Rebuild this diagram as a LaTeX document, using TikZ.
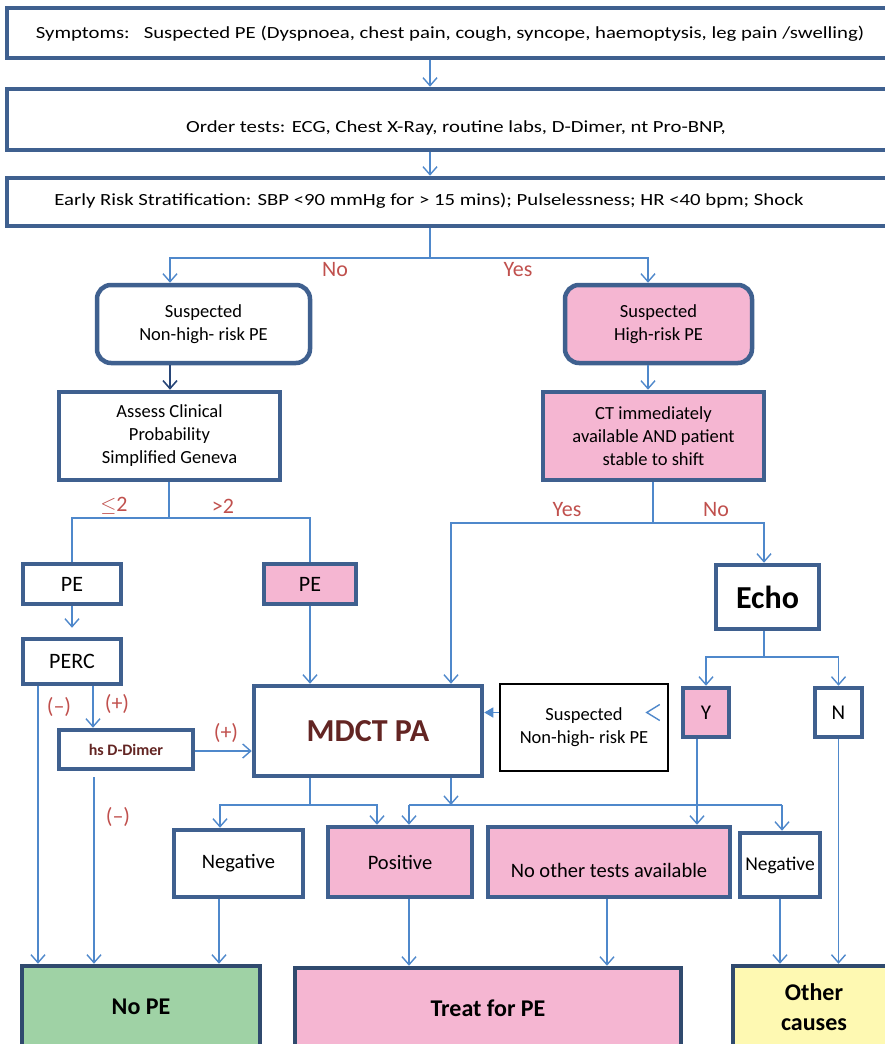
\documentclass[tikz,border=0pt]{standalone}
\usepackage{fontspec}
\setmainfont{Carlito}
\usetikzlibrary{arrows.meta,calc}
\definecolor{bordc}{RGB}{63,96,143}
\definecolor{bordd}{RGB}{48,74,110}
\definecolor{arrc}{RGB}{79,136,203}
\definecolor{darrc}{RGB}{40,70,120}
\definecolor{pinkc}{RGB}{245,182,210}
\definecolor{greenc}{RGB}{159,210,165}
\definecolor{yellc}{RGB}{254,249,178}
\definecolor{redc}{RGB}{192,80,77}
\definecolor{mdctc}{RGB}{99,37,35}
\newcommand{\widetext}[1]{\scalebox{1.22}[1]{#1}}
\begin{document}
\begin{tikzpicture}[x=1pt,y=-1pt,
  box/.style={draw=bordc,line width=4.5pt,rectangle,inner sep=0pt,align=center,
    font=\fontsize{18.5}{23}\selectfont},
  pinkbox/.style={box,fill=pinkc},
  endbox/.style={box,draw=bordd,font=\fontsize{24}{30}\selectfont\bfseries},
  ln/.style={draw=arrc,line width=1.4pt},
  arr/.style={ln,-{Straight Barb[length=8pt,width=14pt]}},
  darr/.style={draw=darrc,line width=1.6pt,-{Straight Barb[length=8pt,width=14pt]}},
  farr/.style={ln,-{Triangle[length=9pt,width=10pt]}},
  lab/.style={text=redc,font=\fontsize{22}{26}\selectfont,inner sep=0pt},
  toptext/.style={font=\fontsize{17}{20}\selectfont,inner sep=0pt},
  restext/.style={font=\fontsize{20.5}{24}\selectfont}
]
\useasboundingbox (0,0) rectangle (885,1044);
\clip (0,0) rectangle (885,1044);

% column / fork coordinates
\coordinate (c430) at (430,0);
\coordinate (c170) at (170,0);
\coordinate (c648) at (648,0);
\coordinate (c38) at (38,0);
\coordinate (c93) at (93,0);
\coordinate (c94) at (94,0);
\coordinate (c451) at (451,0);
\coordinate (c764) at (764,0);
\coordinate (c697) at (697,0);
\coordinate (c220) at (220,0);
\coordinate (c377) at (377,0);
\coordinate (c409) at (409,0);
\coordinate (c782) at (782,0);
\coordinate (c219) at (219,0);
\coordinate (c607) at (607,0);
\coordinate (c780) at (780,0);
\coordinate (y751) at (0,751);
\coordinate (f1) at (430,258);
\coordinate (f2) at (169,518);
\coordinate (f3) at (653,523);
\coordinate (f4) at (764,657);
\coordinate (f5) at (310,805);
\coordinate (f6) at (451,805);

% top boxes
\node[box,minimum width=888pt,minimum height=50pt] (b1) at (451,33) {};
\node[toptext] (t1) at (450,34)
  {\widetext{Symptoms:\ \ \ Suspected PE (Dyspnoea, chest pain, cough, syncope, haemoptysis, leg pain /swelling)}};
\node[box,minimum width=888pt,minimum height=61pt] (b2) at (451,119.5) {};
\node[toptext] (t2) at (456,128) {\widetext{Order tests: ECG, Chest X-Ray, routine labs, D-Dimer, nt Pro-BNP,}};
\node[box,minimum width=888pt,minimum height=48pt] (b3) at (451,202) {};
\node[toptext] (t3) at (429,201) {\widetext{Early Risk Stratification: SBP <90 mmHg for > 15 mins); Pulselessness; HR <40 bpm; Shock}};

% second level
\node[box,rounded corners=14pt,minimum width=213pt,minimum height=78pt,fill=white] (nonhigh) at (203.5,324)
  {Suspected\\Non-high- risk PE};
\node[pinkbox,rounded corners=14pt,minimum width=187pt,minimum height=78pt] (high) at (658.5,324)
  {Suspected\\High-risk PE};
\node[box,minimum width=221pt,minimum height=88pt] (assess) at (169.5,436)
  {Assess Clinical\\Probability\\Simplified Geneva};
\node[pinkbox,minimum width=221pt,minimum height=88pt] (ct) at (653.5,436)
  {CT immediately\\available AND patient\\stable to shift};

% left branch
\node[box,minimum width=98pt,minimum height=40pt,font=\fontsize{22}{26}\selectfont] (pe1) at (72,584) {PE};
\node[pinkbox,minimum width=92pt,minimum height=40pt,font=\fontsize{22}{26}\selectfont] (pe2) at (310,584) {PE};
\node[box,minimum width=98pt,minimum height=45pt,font=\fontsize{22}{26}\selectfont] (perc) at (72,661.5) {PERC};
\node[box,minimum width=134pt,minimum height=39pt,text=mdctc,font=\fontsize{16}{19}\selectfont\bfseries] (hsd) at (126,749.5) {hs D-Dimer};
\node[box,minimum width=228pt,minimum height=90pt,text=mdctc,font=\fontsize{32}{38}\selectfont\bfseries] (mdct) at (368,731) {MDCT PA};

% right branch
\node[box,minimum width=103pt,minimum height=64pt,font=\fontsize{32}{38}\selectfont\bfseries] (echo) at (767.5,597) {Echo};
\node[pinkbox,minimum width=46pt,minimum height=49pt,font=\fontsize{21}{26}\selectfont] (ynode) at (706,712.5) {Y};
\node[box,minimum width=47pt,minimum height=49pt,font=\fontsize{21}{26}\selectfont] (nnode) at (838.5,712.5) {N};
\node[draw=black,line width=1.2pt,rectangle,inner sep=0pt,align=center,minimum width=168pt,minimum height=87pt,
  font=\fontsize{18.5}{23}\selectfont] (susp) at (584,727.5) {Suspected\\Non-high- risk PE};

% results row
\node[box,restext,minimum width=129pt,minimum height=67pt] (neg1) at (238.5,863.5) {Negative};
\node[pinkbox,restext,minimum width=144pt,minimum height=70pt] (pos) at (400,862) {Positive};
\node[pinkbox,restext,minimum width=242pt,minimum height=70pt] (noother) at (609,862) {\raisebox{-8pt}[\height][\depth]{No other tests available}};
\node[box,minimum width=80pt,minimum height=64pt,font=\fontsize{19.5}{24}\selectfont] (neg2) at (780,865) {Negative};

% end boxes
\node[endbox,fill=greenc,minimum width=238pt,minimum height=82pt] (nope) at (141,1007) {No PE};
\node[endbox,fill=pinkc,minimum width=386pt,minimum height=80pt] (treat) at (488,1008) {Treat for PE};
\node[endbox,fill=yellc,minimum width=162pt,minimum height=82pt] (other) at (814,1007) {Other\\causes};

% connectors top
\draw[arr] (b1.south -| c430) -- (b2.north -| c430);
\draw[arr] (b2.south -| c430) -- (b3.north -| c430);
\draw[ln] (b3.south -| c430) -- (f1);
\draw[arr] (f1) -| (nonhigh.north -| c170);
\draw[arr] (f1) -| (high.north -| c648);
\node[lab] (lno) at (335,270) {No};
\node[lab] (lyes) at (518,270) {Yes};
\draw[darr] (nonhigh.south -| c170) -- (assess.north -| c170);
\draw[arr] (high.south -| c648) -- (ct.north -| c648);

% assess fork
\draw[ln] (assess.south -| f2) -- (f2);
\draw[ln] (f2) -| (pe1.north);
\draw[ln] (f2) -| (pe2.north);
\node[lab] (lle) at (114,506) {$\leq$2};
\node[lab] (lgt) at (223,506) {>2};

\draw[arr,shorten >=9pt] (pe1.south) -- (perc.north);
\draw[arr] (pe2.south) -- (mdct.north -| pe2.south);
\draw[arr] (perc.south -| c38) -- (nope.north -| c38);
\draw[arr] (perc.south -| c93) -- (hsd.north -| c93);
\node[lab] (lm1) at (59,707) {(–)};
\node[lab] (lp1) at (117,704) {(+)};
\draw[arr] (hsd.east |- y751) -- (mdct.west |- y751);
\node[lab] (lp2) at (226,733) {(+)};
\draw[arr] ($(hsd.south -| c94)+(0,6)$) -- (nope.north -| c94);
\node[lab] (lm2) at (118,817) {(–)};

% ct fork
\draw[ln] (ct.south -| f3) -- (f3);
\draw[arr] (f3) -| (mdct.north -| c451);
\draw[arr] (f3) -| (echo.north -| c764);
\node[lab] (lyes2) at (567,510) {Yes};
\node[lab] (lno2) at (716,510) {No};

% echo fork
\draw[ln] (echo.south -| f4) -- (f4);
\draw[arr] (f4) -| (ynode.north);
\draw[arr] (f4) -| (nnode.north);
\draw[farr] (susp.west |- ynode) -- (mdct.east |- ynode);
\draw[ln] ($(ynode.west)+(-21,-8)$) -- ($(ynode.west)+(-34,0)$) -- ($(ynode.west)+(-21,8)$);
\draw[arr] (ynode.south -| c697) -- (noother.north -| c697);
\draw[arr] (nnode.south) -- (other.north -| nnode.south);

% mdct forks
\draw[ln] (mdct.south -| f5) -- (f5);
\draw[arr] (f5) -| (neg1.north -| c220);
\draw[arr] (f5) -| (pos.north -| c377);
\draw[arr] (mdct.south -| f6) -- (f6);
\draw[ln] (c409 |- f6) -- (c782 |- f6);
\draw[arr] (c409 |- f6) -- (pos.north -| c409);
\draw[arr] (c782 |- f6) -- (neg2.north -| c782);

% to end boxes
\draw[arr] (neg1.south -| c219) -- (nope.north -| c219);
\draw[arr] (pos.south -| c409) -- (treat.north -| c409);
\draw[arr] (noother.south -| c607) -- (treat.north -| c607);
\draw[arr] (neg2.south -| c780) -- (other.north -| c780);
\end{tikzpicture}
\end{document}
